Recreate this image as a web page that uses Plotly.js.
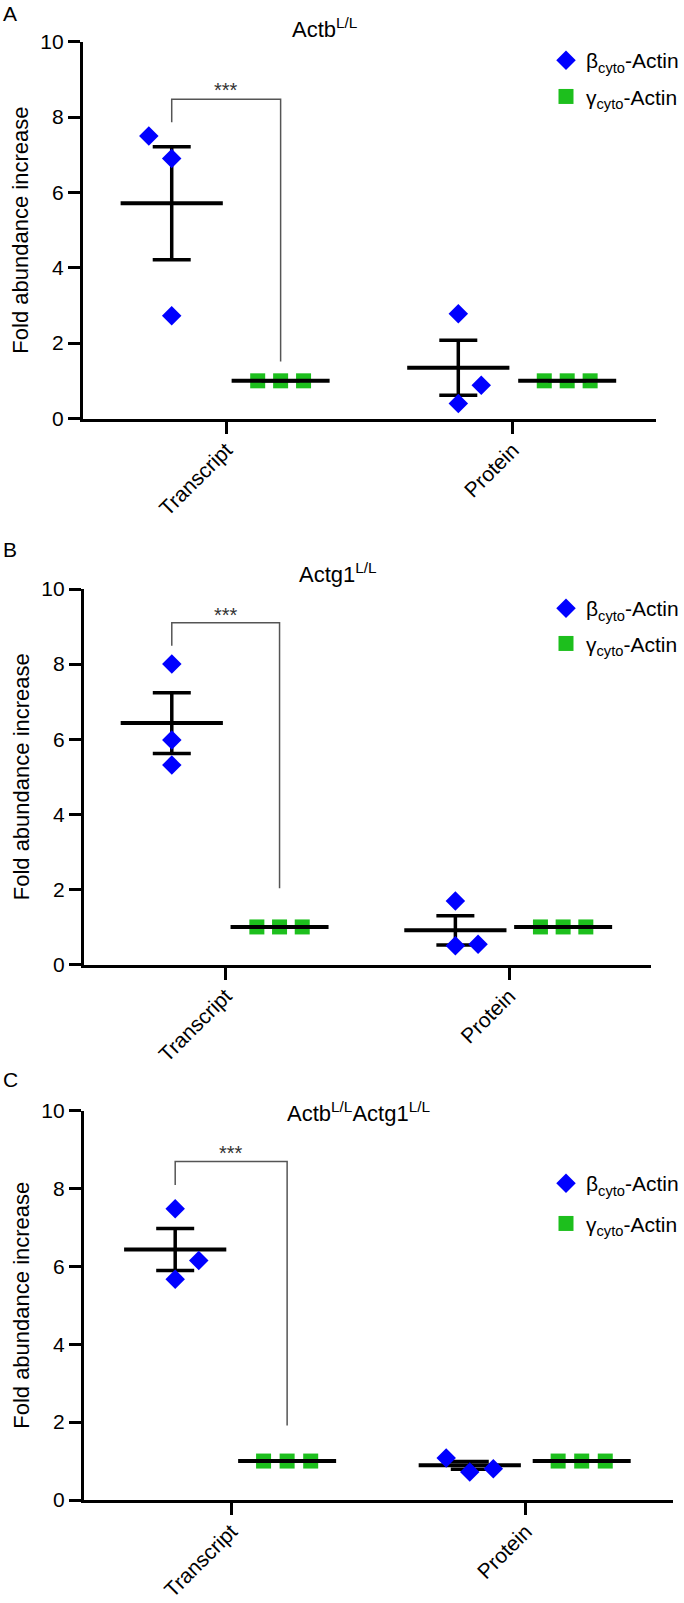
<!DOCTYPE html>
<html>
<head>
<meta charset="utf-8">
<script src="https://cdn.plot.ly/plotly-3.0.1.min.js"></script>
<style>
html,body{margin:0;padding:0;background:#fff;}
#chart{width:684px;height:1603px;}
</style>
</head>
<body>
<div id="chart"></div>
<script>
// ---------------- DATA ----------------
const categories = ['Transcript', 'Protein'];
const seriesNames = ['β<sub>cyto</sub>-Actin', 'γ<sub>cyto</sub>-Actin'];
const panelTitles = ['Actb<sup>L/L</sup>', 'Actg1<sup>L/L</sup>', 'Actb<sup>L/L</sup>Actg1<sup>L/L</sup>'];
const panelLetters = ['A', 'B', 'C'];
const yTickVals = [0, 2, 4, 6, 8, 10];
const yTitle = 'Fold abundance increase';
const sigLabel = '***';

// Panel A (Actb L/L)
const betaTranscriptA = [7.50, 6.90, 2.73];
const betaProteinA = [2.78, 0.88, 0.40];
const gammaTranscriptA = [1.00, 1.00, 1.00];
const gammaProteinA = [1.00, 1.00, 1.00];
const betaMeanA = [5.71, 1.35];
const betaSemA = [1.50, 0.73];
const gammaMeanA = [1.00, 1.00];
const gammaSemA = [0, 0];

// Panel B (Actg1 L/L)
const betaTranscriptB = [8.00, 5.98, 5.31];
const betaProteinB = [1.69, 0.50, 0.54];
const gammaTranscriptB = [1.00, 1.00, 1.00];
const gammaProteinB = [1.00, 1.00, 1.00];
const betaMeanB = [6.43, 0.91];
const betaSemB = [0.81, 0.39];
const gammaMeanB = [1.00, 1.00];
const gammaSemB = [0, 0];

// Panel C (Actb L/L Actg1 L/L)
const betaTranscriptC = [7.48, 6.15, 5.67];
const betaProteinC = [1.08, 0.72, 0.80];
const gammaTranscriptC = [1.00, 1.00, 1.00];
const gammaProteinC = [1.00, 1.00, 1.00];
const betaMeanC = [6.43, 0.89];
const betaSemC = [0.54, 0.10];
const gammaMeanC = [1.00, 1.00];
const gammaSemC = [0, 0];

// significance bracket heights (y values): left leg bottom, top, right leg bottom
const bracketLeftY = [7.86, 8.49, 8.09];
const bracketTopY = [8.47, 9.10, 8.69];
const bracketRightY = [1.51, 2.03, 1.91];
const starsY = [8.72, 9.30, 8.90];

// ---------------- LAYOUT / STYLE ----------------
const W = 684, H = 1603;
const FONT = 'Liberation Sans, Arial, Helvetica, sans-serif';
const BLUE = '#0000ff', GREEN = '#1dbf1d';
const groupOffset = 0.19, jitterStep = 0.08;
// jitter slots (column scatter positions) per panel
const slots = [
  {bt: [-1, 0, 0], bp: [0, 1, 0], g: [-1, 0, 1]},
  {bt: [0, 0, 0], bp: [0, 0, 1], g: [-1, 0, 1]},
  {bt: [0, 1, 0], bp: [-1, 0, 1], g: [-1, 0, 1]}
];
// plot area pixel geometry per panel
const geom = [
  {x0: 83, x1: 657, yTop: 41.7, yBot: 418.5},
  {x0: 84, x1: 652, yTop: 589, yBot: 964.5},
  {x0: 84, x1: 674, yTop: 1110.5, yBot: 1500}
];
const letterPos = [[1, 0], [1, 536], [1, 1066]];
const titlePos = [[325, 28], [338, 573], [360, 1112]];
const legendTop = [40, 588, 1163];
const legendGap = [6, 5, 10];

const panels = [
  {bt: betaTranscriptA, bp: betaProteinA, gt: gammaTranscriptA, gp: gammaProteinA, bm: betaMeanA, bs: betaSemA, gm: gammaMeanA, gs: gammaSemA},
  {bt: betaTranscriptB, bp: betaProteinB, gt: gammaTranscriptB, gp: gammaProteinB, bm: betaMeanB, bs: betaSemB, gm: gammaMeanB, gs: gammaSemB},
  {bt: betaTranscriptC, bp: betaProteinC, gt: gammaTranscriptC, gp: gammaProteinC, bm: betaMeanC, bs: betaSemC, gm: gammaMeanC, gs: gammaSemC}
];

const traces = [];
const layout = {
  width: W, height: H,
  margin: {l: 0, r: 0, t: 0, b: 0},
  paper_bgcolor: '#fff', plot_bgcolor: '#fff',
  font: {family: FONT, color: '#000'},
  showlegend: true,
  annotations: [],
  shapes: []
};

panels.forEach((p, i) => {
  const s = i === 0 ? '' : String(i + 1);
  const xa = 'x' + s, ya = 'y' + s;
  const legName = i === 0 ? 'legend' : 'legend' + (i + 1);
  const g = geom[i];
  const sl = slots[i];

  const bX = [
    ...sl.bt.map(k => 0 - groupOffset + k * jitterStep),
    ...sl.bp.map(k => 1 - groupOffset + k * jitterStep)
  ];
  const gX = [
    ...sl.g.map(k => 0 + groupOffset + k * jitterStep),
    ...sl.g.map(k => 1 + groupOffset + k * jitterStep)
  ];

  // gamma points
  traces.push({
    type: 'scatter', mode: 'markers', xaxis: xa, yaxis: ya,
    x: gX, y: [...p.gt, ...p.gp],
    name: seriesNames[1], legend: legName, legendgroup: 'g' + i, legendrank: 2,
    marker: {symbol: 'square', size: 15, color: GREEN, line: {width: 0}},
    cliponaxis: false, hoverinfo: 'y'
  });
  // gamma mean + SEM
  traces.push({
    type: 'scatter', mode: 'markers', xaxis: xa, yaxis: ya,
    x: [0 + groupOffset, 1 + groupOffset], y: p.gm,
    error_y: {type: 'data', array: p.gs, visible: true, color: '#000', thickness: 3.5, width: 19},
    marker: {symbol: 'line-ew', size: 70, color: '#000', line: {color: '#000', width: 4}},
    showlegend: false, hoverinfo: 'skip', cliponaxis: false
  });
  // beta mean + SEM
  traces.push({
    type: 'scatter', mode: 'markers', xaxis: xa, yaxis: ya,
    x: [0 - groupOffset, 1 - groupOffset], y: p.bm,
    error_y: {type: 'data', array: p.bs, visible: true, color: '#000', thickness: 3.5, width: 19},
    marker: {symbol: 'line-ew', size: 73, color: '#000', line: {color: '#000', width: 4}},
    showlegend: false, hoverinfo: 'skip', cliponaxis: false
  });
  // beta points
  traces.push({
    type: 'scatter', mode: 'markers', xaxis: xa, yaxis: ya,
    x: bX, y: [...p.bt, ...p.bp],
    name: seriesNames[0], legend: legName, legendgroup: 'b' + i, legendrank: 1,
    marker: {symbol: 'diamond', size: 15, color: BLUE, line: {width: 0}},
    cliponaxis: false, hoverinfo: 'y'
  });

  layout['xaxis' + s] = {
    domain: [g.x0 / W, g.x1 / W], anchor: ya,
    range: [-0.5, 1.5], tickvals: [0, 1], ticktext: categories,
    tickangle: -45, ticks: 'outside', ticklen: 12, tickwidth: 3, tickcolor: '#000',
    ticklabelstandoff: -4,
    showline: true, linewidth: 3, linecolor: '#000',
    showgrid: false, zeroline: false, fixedrange: true,
    tickfont: {size: 21, color: '#000', family: FONT}
  };
  layout['yaxis' + s] = {
    domain: [1 - g.yBot / H, 1 - g.yTop / H], anchor: xa,
    range: [0, 10], tickvals: yTickVals, ticks: 'outside', ticklen: 12, tickwidth: 3, tickcolor: '#000',
    showline: true, linewidth: 3, linecolor: '#000',
    showgrid: false, zeroline: false, fixedrange: true,
    tickfont: {size: 21, color: '#000', family: FONT},
    title: {text: yTitle, font: {size: 22, color: '#000', family: FONT}, standoff: 6}
  };

  layout[legName] = {
    x: 547 / W, xanchor: 'left', y: 1 - legendTop[i] / H, yanchor: 'top',
    font: {size: 21, color: '#000', family: FONT},
    bgcolor: 'rgba(0,0,0,0)', borderwidth: 0,
    tracegroupgap: legendGap[i], itemwidth: 30
  };

  // significance bracket
  layout.shapes.push({
    type: 'path', xref: xa, yref: ya,
    path: `M ${-groupOffset},${bracketLeftY[i]} L ${-groupOffset},${bracketTopY[i]} L ${groupOffset},${bracketTopY[i]} L ${groupOffset},${bracketRightY[i]}`,
    line: {color: '#555', width: 1.5}
  });
  layout.annotations.push({
    xref: xa, yref: ya, x: 0, y: starsY[i], text: sigLabel, showarrow: false,
    xanchor: 'center', yanchor: 'middle', font: {size: 20, color: '#333', family: FONT}
  });
  // panel title
  layout.annotations.push({
    xref: 'paper', yref: 'paper', x: titlePos[i][0] / W, y: 1 - titlePos[i][1] / H,
    xanchor: 'center', yanchor: 'middle', text: panelTitles[i], showarrow: false,
    font: {size: 22, color: '#000', family: FONT}
  });
  // panel letter
  layout.annotations.push({
    xref: 'paper', yref: 'paper', x: letterPos[i][0] / W, y: 1 - letterPos[i][1] / H,
    xanchor: 'left', yanchor: 'top', text: panelLetters[i], showarrow: false,
    font: {size: 21, color: '#000', family: FONT}
  });
});

Plotly.newPlot('chart', traces, layout, {displayModeBar: false, staticPlot: true});
</script>
</body>
</html>
